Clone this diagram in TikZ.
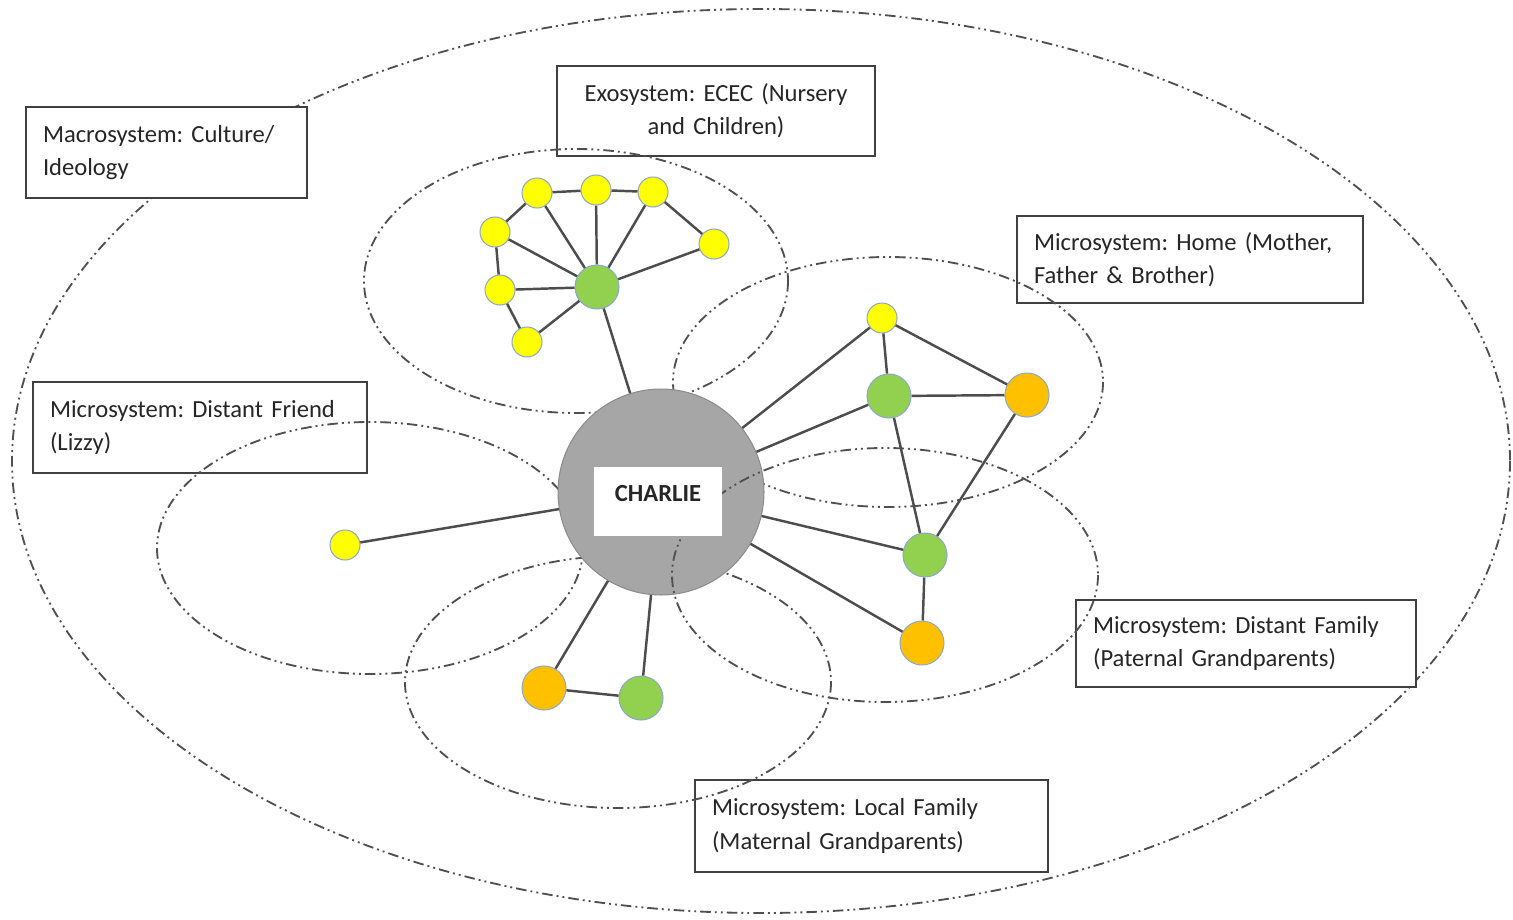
\documentclass[tikz,border=0pt]{standalone}
\usepackage{fontspec}
\setmainfont{Carlito}
\frenchspacing
\definecolor{ellc}{HTML}{505050}
\definecolor{boxc}{HTML}{404040}
\definecolor{txt}{HTML}{262626}
\definecolor{nodeb}{HTML}{8EA9C8}
\definecolor{yel}{HTML}{FFFF00}
\definecolor{grn}{HTML}{92D050}
\definecolor{org}{HTML}{FFC000}
\definecolor{linec}{HTML}{4D4D4D}
\definecolor{cgray}{HTML}{A6A6A6}
\definecolor{cgrayb}{HTML}{8C8C8C}
\begin{document}
\frenchspacing
\begin{tikzpicture}[x=0.02cm,y=-0.02cm,
  ell/.style={draw=ellc, line width=1.05pt, dash pattern=on 6pt off 2.3pt on 1.1pt off 2.3pt on 1.1pt off 2.3pt},
  lbox/.style={draw=boxc, line width=1.3pt, fill=white, rectangle, inner xsep=0.34cm, inner ysep=0pt, align=left, text=txt, font=\fontsize{14}{19}\selectfont},
  pnode/.style={circle, draw=nodeb, line width=0.6pt, inner sep=0pt},
  ysmall/.style={pnode, fill=yel, minimum size=0.6cm},
  gbig/.style={pnode, fill=grn, minimum size=0.88cm},
  obig/.style={pnode, fill=org, minimum size=0.88cm},
  link/.style={draw=linec, line width=1.4pt}]

\useasboundingbox (0,0) rectangle (1513,919);

% outer macrosystem ellipse
\draw[ell] (761,461) ellipse [x radius=749, y radius=452];

% label boxes
\node[lbox, minimum width=5.62cm, minimum height=1.82cm, text width=4.94cm] (macro) at (166.5,152.5)
  {\mbox{Macrosystem: Culture/}\\\mbox{Ideology}};
\node[lbox, minimum width=6.36cm, minimum height=1.8cm, text width=5.68cm, align=center] (exo) at (716,111)
  {\mbox{Exosystem: ECEC (Nursery}\\\mbox{and Children)}};
\node[lbox, minimum width=6.92cm, minimum height=1.74cm, text width=6.24cm] (home) at (1190,259.5)
  {\mbox{Microsystem: Home (Mother,}\\\mbox{Father \& Brother)}};
\node[lbox, minimum width=6.68cm, minimum height=1.82cm, text width=6.0cm] (friend) at (200,427.5)
  {\mbox{Microsystem: Distant Friend}\\\mbox{(Lizzy)}};
\node[lbox, minimum width=6.8cm, minimum height=1.74cm, text width=6.12cm] (distant) at (1246,643.5)
  {\mbox{Microsystem: Distant Family}\\\mbox{(Paternal Grandparents)}};
\node[lbox, minimum width=7.06cm, minimum height=1.84cm, text width=6.38cm] (local) at (871.5,826)
  {\mbox{Microsystem: Local Family}\\\mbox{(Maternal Grandparents)}};

% inner system ellipses (behind the centre)
\draw[ell] (576,281) ellipse [x radius=212, y radius=132];
\draw[ell] (888,382) ellipse [x radius=215, y radius=125];
\draw[ell] (370,548) ellipse [x radius=213, y radius=126];
\draw[ell] (618,682) ellipse [x radius=213, y radius=126];

% centre
\node[circle, fill=cgray, draw=cgrayb, line width=0.6pt, minimum size=4.12cm, inner sep=0pt] (charlie) at (661,492) {};
\draw[ell] (885,575) ellipse [x radius=213, y radius=127];
\node[fill=white, inner sep=0pt, minimum width=2.56cm, minimum height=1.38cm, text height=0.3cm, text depth=0.32cm, text=txt, font=\fontsize{14}{16}\selectfont\bfseries] (cbox) at (658,501.5) {CHARLIE\hspace{0.1cm}};

% ECEC cluster
\node[gbig] (eg) at (597,287) {};
\node[ysmall] (e1) at (537,193) {};
\node[ysmall] (e2) at (596,190) {};
\node[ysmall] (e3) at (653,192) {};
\node[ysmall] (e4) at (714,244) {};
\node[ysmall] (e5) at (495,232) {};
\node[ysmall] (e6) at (500,290) {};
\node[ysmall] (e7) at (527,342) {};

% home and distant family
\node[ysmall] (hy) at (882,318) {};
\node[gbig] (hg) at (889,396) {};
\node[obig] (ho) at (1027,395) {};
\node[gbig] (dg) at (925,555) {};
\node[obig] (do) at (922,643) {};

% friend
\node[ysmall] (fy) at (345,545) {};

% local family
\node[obig] (lo) at (544,688) {};
\node[gbig] (lg) at (641,698) {};

% connectors
\draw[link] (e1) -- (e2);
\draw[link] (e2) -- (e3);
\draw[link] (e3) -- (e4);
\draw[link] (e1) -- (e5);
\draw[link] (e5) -- (e6);
\draw[link] (e6) -- (e7);
\foreach \n in {e1,e2,e3,e4,e5,e6,e7} \draw[link] (eg) -- (\n);
\draw[link] (eg) -- (charlie);

\draw[link] (charlie) -- (hy);
\draw[link] (charlie) -- (hg);
\draw[link] (hy) -- (hg);
\draw[link] (hy) -- (ho);
\draw[link] (hg) -- (ho);
\draw[link] (hg) -- (dg);
\draw[link] (ho) -- (dg);
\draw[link] (dg) -- (do);
\draw[link] (charlie) -- (dg);
\draw[link] (charlie) -- (do);

\draw[link] (charlie) -- (fy);

\draw[link] (charlie) -- (lo);
\draw[link] (charlie) -- (lg);
\draw[link] (lo) -- (lg);
\end{tikzpicture}
\end{document}
